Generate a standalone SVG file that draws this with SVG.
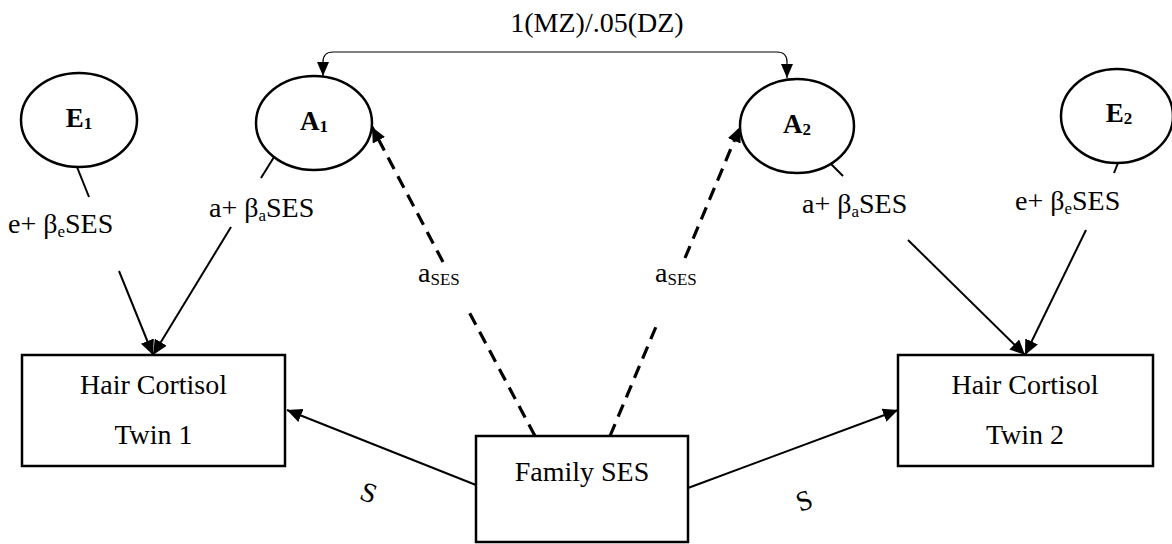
<svg xmlns="http://www.w3.org/2000/svg" width="1172" height="544" viewBox="0 0 1172 544">
<style>
text{fill:#000;font-family:'Liberation Serif','Times New Roman',serif}
.t{font-size:28px}
.lat{font-size:27px;font-weight:bold}
.sub{font-size:17px}
.node{fill:#fff;stroke:#000;stroke-width:2.5}
.sol{stroke:#000;stroke-width:2;fill:none}
.dash{stroke:#000;stroke-width:3.2;fill:none;stroke-dasharray:13 8}
.thin{stroke:#000;stroke-width:1.2;fill:none}
</style>
<defs>
<marker id="ah" markerUnits="userSpaceOnUse" markerWidth="16" markerHeight="14" refX="15" refY="7" orient="auto">
<path d="M0,0 L15,7 L0,14 z" fill="#000"/>
</marker>
<marker id="ahs" markerUnits="userSpaceOnUse" markerWidth="14" markerHeight="12" refX="14" refY="6" orient="auto-start-reverse">
<path d="M0,0 L14,6 L0,12 z" fill="#000"/>
</marker>
</defs>
<g id="connectors">
<path class="thin" d="M323,76 L323,62 Q323,52 333,52 L777,52 Q787,52 787,62 L787,78" marker-start="url(#ahs)" marker-end="url(#ahs)"/>
<line class="sol" x1="77" y1="167" x2="89" y2="197"/>
<line class="sol" x1="119" y1="271" x2="153" y2="355" marker-end="url(#ah)"/>
<line class="sol" x1="274" y1="157" x2="261" y2="178"/>
<line class="sol" x1="231" y1="227" x2="153" y2="355" marker-end="url(#ah)"/>
<line class="sol" x1="830" y1="163" x2="843" y2="176"/>
<line class="sol" x1="908" y1="240" x2="1025" y2="355" marker-end="url(#ah)"/>
<line class="sol" x1="1118" y1="163" x2="1114" y2="173"/>
<line class="sol" x1="1086" y1="230" x2="1025" y2="355" marker-end="url(#ah)"/>
<line class="dash" x1="535" y1="436" x2="468" y2="310"/>
<line class="dash" x1="443" y1="262" x2="372" y2="127" marker-end="url(#ah)"/>
<line class="dash" x1="610" y1="436" x2="658" y2="322"/>
<line class="dash" x1="685" y1="258" x2="740" y2="127" marker-end="url(#ah)"/>
<line class="sol" x1="476" y1="485" x2="287" y2="410" marker-end="url(#ah)"/>
<line class="sol" x1="688" y1="488" x2="898" y2="410" marker-end="url(#ah)"/>
<text class="t" x="597" y="32" text-anchor="middle">1(MZ)/.05(DZ)</text>
<text class="t" x="8" y="233">e+ β<tspan class="sub" dy="4">e</tspan><tspan dy="-4">SES</tspan></text>
<text class="t" x="209" y="217">a+ β<tspan class="sub" dy="4">a</tspan><tspan dy="-4">SES</tspan></text>
<text class="t" x="802" y="213">a+ β<tspan class="sub" dy="4">a</tspan><tspan dy="-4">SES</tspan></text>
<text class="t" x="1015" y="210">e+ β<tspan class="sub" dy="4">e</tspan><tspan dy="-4">SES</tspan></text>
<text class="t" x="418" y="282">a<tspan class="sub" dy="3">SES</tspan></text>
<text class="t" x="655" y="282">a<tspan class="sub" dy="3">SES</tspan></text>
<text class="t" x="369" y="502" text-anchor="middle" transform="rotate(20 369 492)">S</text>
<text class="t" x="804" y="510" text-anchor="middle" transform="rotate(-20 804 500)">S</text>
</g>
<g id="E1">
<ellipse class="node" cx="79" cy="120" rx="58" ry="47"/>
<text class="lat" x="79" y="127" text-anchor="middle">E<tspan class="sub" dy="2">1</tspan></text>
</g>
<g id="A1">
<ellipse class="node" cx="314" cy="123" rx="58" ry="47"/>
<text class="lat" x="314" y="130" text-anchor="middle">A<tspan class="sub" dy="2">1</tspan></text>
</g>
<g id="A2">
<ellipse class="node" cx="797" cy="126" rx="57" ry="47"/>
<text class="lat" x="797" y="133" text-anchor="middle">A<tspan class="sub" dy="2">2</tspan></text>
</g>
<g id="E2">
<ellipse class="node" cx="1117" cy="116" rx="56" ry="47"/>
<text class="lat" x="1119" y="122" text-anchor="middle">E<tspan class="sub" dy="2">2</tspan></text>
</g>
<g id="twin1">
<rect class="node" x="22" y="355" width="263" height="111"/>
<text class="t" x="153.5" y="394" text-anchor="middle">Hair Cortisol</text>
<text class="t" x="153.5" y="444" text-anchor="middle">Twin 1</text>
</g>
<g id="twin2">
<rect class="node" x="898" y="355" width="255" height="111"/>
<text class="t" x="1025" y="394" text-anchor="middle">Hair Cortisol</text>
<text class="t" x="1025" y="444" text-anchor="middle">Twin 2</text>
</g>
<g id="familySES">
<rect class="node" x="476" y="436" width="212" height="106"/>
<text class="t" x="582" y="481" text-anchor="middle">Family SES</text>
</g>
</svg>
